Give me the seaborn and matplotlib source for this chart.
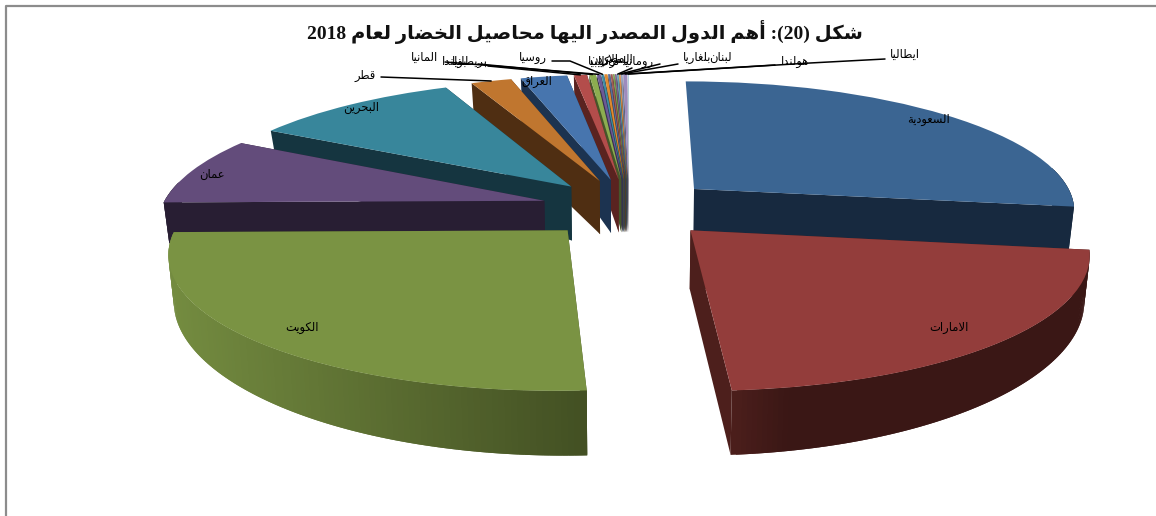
import unicodedata

import numpy as np
import matplotlib
matplotlib.use("Agg")
import matplotlib.pyplot as plt
from matplotlib.transforms import Transform
import seaborn as sns

## Data
countries = ["السعودية", "الامارات", "الكويت", "عمان", "البحرين", "قطر", "العراق",
             "بريطانيا", "بولندا", "المانيا", "روسيا", "ليبيا", "الاردن", "تركيا",
             "مصر", "اليمن", "رومانيا", "بلغاريا", "لبنان", "هولندا", "ايطاليا"]
shares = [27.2, 21.7, 25.8, 8.3, 10.3, 2.0, 2.3,
          0.65, 0.32, 0.18, 0.12, 0.15, 0.1, 0.1,
          0.08, 0.08, 0.08, 0.08, 0.08, 0.2, 0.05]
title_text = "شكل (20): أهم الدول المصدر اليها محاصيل الخضار لعام 2018"

top_colors = ["#3B6592", "#933D3B", "#7A9343", "#634C7B", "#38869B", "#C0762F", "#4775AE",
              "#B34D4B", "#8CAD50", "#6B5A96", "#3F8CA5", "#E08A30", "#5A6E9A", "#A05A55",
              "#7E9A4E", "#76608F", "#5C9DB0", "#D98F4A", "#8C9AB8", "#9D8BBD", "#A9C8D8"]
wall_left = ["#17293F", "#4D1F1C", "#748C40", "#281E33", "#153540", "#4F2E12", "#1C3350",
             "#5A2320", "#46562A", "#3A3050", "#204A58", "#6E4518", "#333D55", "#502D2A",
             "#465428", "#3C3048", "#2E5058", "#6C4725", "#464D5C", "#4E455E", "#54646C"]
wall_right = ["#17293F", "#3A1715", "#435023", "#281E33", "#153540", "#4F2E12", "#1C3350",
              "#5A2320", "#46562A", "#3A3050", "#204A58", "#6E4518", "#333D55", "#502D2A",
              "#465428", "#3C3048", "#2E5058", "#6C4725", "#464D5C", "#4E455E", "#54646C"]

# label centres in pixels, and the elbow of the leader line (None = no line)
label_xy = [(929, 120), (949, 328), (302, 328), (212, 174), (361, 108), (365, 75), (537, 81),
            (470, 62), (455, 61), (425, 57), (533, 58), (597, 61), (604, 60), (609, 61),
            (614, 60), (620, 60), (638, 62), (697, 58), (720, 57), (795, 62), (905, 54)]
leader_from = [None, None, None, None, None, (381, 77), None,
               (488, 66), (478, 64), (445, 62), (570, 61), None, None, None,
               None, None, (632, 68), (660, 64), (678, 64), (775, 65), (810, 63)]
leader_start = [None, None, None, None, None, None, None,
                None, None, None, (552, 61), None, None, None,
                None, None, None, None, None, None, (885, 59)]

explode_ratio = 0.23
start_angle = 90
draw_order = list(range(20, 3, -1)) + [3, 0, 2, 1]


## Arabic shaping (matplotlib draws letters one by one, left to right)
forms = {}
for cp in range(0xFE70, 0xFEFD):
    parts = unicodedata.decomposition(chr(cp)).split()
    if len(parts) >= 2 and parts[0].startswith("<"):
        forms[(parts[0], "".join(chr(int(p, 16)) for p in parts[1:]))] = chr(cp)


def shape(text):
    tokens = []
    i = 0
    while i < len(text):
        if text[i] == "ل" and i + 1 < len(text) and text[i + 1] in "اأإآ":
            tokens.append(text[i:i + 2])
            i += 2
        else:
            tokens.append(text[i])
            i += 1

    def joins_next(t):
        return ("<initial>", t) in forms

    def joins_prev(t):
        return ("<final>", t) in forms

    out = []
    for n, t in enumerate(tokens):
        prev_j = n > 0 and joins_next(tokens[n - 1]) and joins_prev(t)
        next_j = n + 1 < len(tokens) and joins_next(t) and joins_prev(tokens[n + 1])
        if prev_j and next_j:
            key = "<medial>"
        elif prev_j:
            key = "<final>"
        elif next_j:
            key = "<initial>"
        else:
            key = "<isolated>"
        out.append(forms.get((key, t), t))
    vis = "".join(out)[::-1]
    # digits and brackets keep their own direction
    res, run = "", ""
    for ch in vis:
        if ch.isdigit():
            run += ch
        else:
            res += run[::-1] + {"(": ")", ")": "("}.get(ch, ch)
            run = ""
    return res + run[::-1]


## Perspective of the pie plane
CX, CY, RX, RY, K = 629, 208, 383, 129, 0.15


def project(u, v):
    g = 1 / (1 + K * np.asarray(v))
    return CX + RX * np.asarray(u) * g, CY - RY * np.asarray(v) * g


def depth(u, v):
    u, v = np.asarray(u), np.asarray(v)
    side = 10 + 8 * np.clip(v * 2, 0, 1)
    return 58 - 22 * np.clip(v, 0, None) + 6 * np.clip(-v, 0, None) - side * u ** 2


def floor_x(x):
    # the lower edge of the pie sits a little closer to the middle
    return x - (x - CX) * 0.012


class PieProjection(Transform):
    input_dims = 2
    output_dims = 2

    def transform_non_affine(self, values):
        values = np.asarray(values)
        x, y = project(values[:, 0], values[:, 1])
        return np.column_stack([x, y])


## Figure
sns.set_theme(style="white")
plt.rcParams["font.family"] = ["DejaVu Sans"]

fig, ax = plt.subplots(figsize=(11.56, 5.16), dpi=100)
fig.subplots_adjust(left=0, right=1, top=1, bottom=0)

palette = sns.color_palette(top_colors)
wedges, _ = ax.pie(shares, explode=[explode_ratio] * len(shares), colors=palette,
                   startangle=start_angle, counterclock=False,
                   wedgeprops={"linewidth": 0})
ax.set_aspect("auto")
ax.set_xlim(0, 1156)
ax.set_ylim(516, 0)
ax.axis("off")

proj = PieProjection() + ax.transData
z = 2
for idx in draw_order:
    w = wedges[idx]
    cu, cv = w.center
    th = np.radians(np.linspace(w.theta1, w.theta2, 120))
    us = cu + np.cos(th)
    vs = cv + np.sin(th)
    tx, ty = project(us, vs)
    bx = floor_x(tx)
    d = depth(us, vs)
    ax_x, ax_y = project(cu, cv)
    ax_d = depth(cu, cv)

    # the two flat cut faces (the upper cut of the first slice stays hidden)
    for end in ((0,) if idx == 0 else (0, -1)):
        ax.fill([ax_x, tx[end], bx[end], floor_x(ax_x)],
                [ax_y, ty[end], ty[end] + d[end], ax_y + ax_d],
                color=wall_left[idx] if idx != 2 else wall_right[idx], lw=0, zorder=z)
    z += 1

    # the outer rim, shaded along the screen; each strip overlaps the next one
    c_a = np.array(matplotlib.colors.to_rgb(wall_left[idx]))
    c_b = np.array(matplotlib.colors.to_rgb(wall_right[idx]))
    for j in range(len(th) - 1):
        if np.sin(th[j]) > 0.15:
            continue  # back of the rim, behind the top face
        k = min(j + 2, len(th) - 1)
        frac = np.clip(((tx[j] + tx[k]) / 2 - min(tx)) / max(np.ptp(tx), 1), 0, 1)
        if idx == 1:
            frac = np.clip(frac * 6, 0, 1)
        ax.fill([tx[j], tx[k], bx[k], bx[j]],
                [ty[j], ty[k], ty[k] + d[k], ty[j] + d[j]],
                color=c_a + (c_b - c_a) * frac, lw=0, zorder=z)
        z += 0.001
    z += 1

    w.set_transform(proj)
    w.set_zorder(z)
    z += 1

## Labels and leader lines
for idx, name in enumerate(countries):
    ax.text(label_xy[idx][0], label_xy[idx][1], shape(name), fontsize=8.3, color="black",
            ha="center", va="center", zorder=z + 2)
    if leader_from[idx] is None:
        continue
    w = wedges[idx]
    mid = np.radians((w.theta1 + w.theta2) / 2)
    ex, ey = project(w.center[0] + np.cos(mid), w.center[1] + np.sin(mid))
    pts = [leader_from[idx], (float(ex), float(ey))]
    if leader_start[idx] is not None:
        pts.insert(0, leader_start[idx])
    ax.plot([p[0] for p in pts], [p[1] for p in pts], color="black", lw=1.1, zorder=z + 1)

ax.text(585, 32, shape(title_text), fontsize=14, fontweight="bold", color="#111111",
        family=["Liberation Serif", "DejaVu Sans"],
        ha="center", va="center", zorder=z + 2)

# chart frame, only the top and left sides are in the picture
ax.plot([6, 6, 1156], [516, 6, 6], color="#8C8C8C", lw=1.6, zorder=z + 2, clip_on=False)

fig.savefig("out.png", dpi=100, facecolor="white")
